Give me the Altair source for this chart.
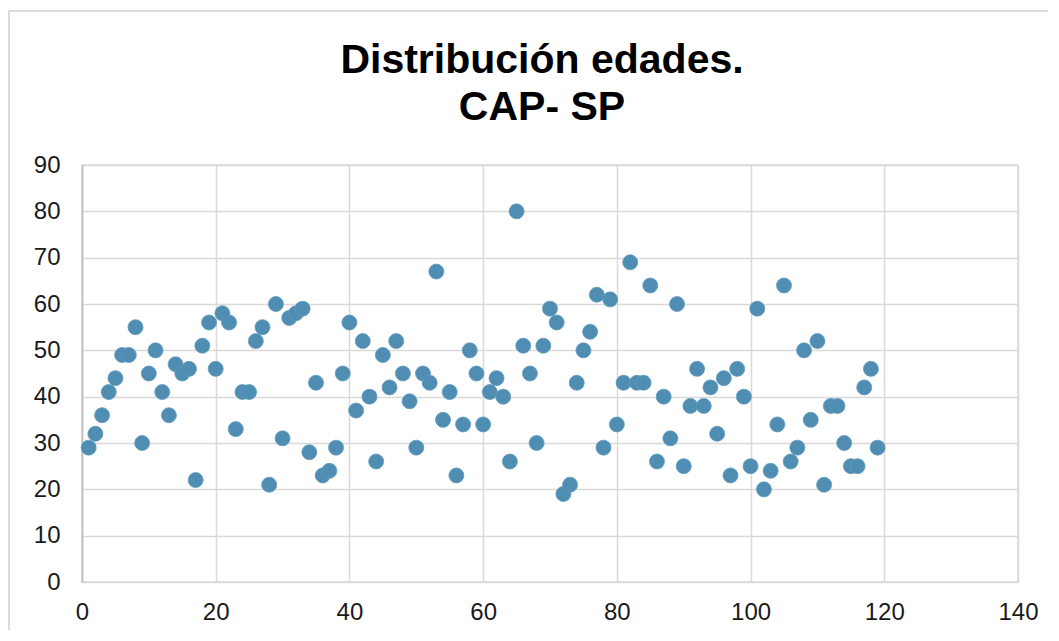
import altair as alt
import pandas as pd

ages = [29, 32, 36, 41, 44, 49, 49, 55, 30, 45,
        50, 41, 36, 47, 45, 46, 22, 51, 56, 46,
        58, 56, 33, 41, 41, 52, 55, 21, 60, 31,
        57, 58, 59, 28, 43, 23, 24, 29, 45, 56,
        37, 52, 40, 26, 49, 42, 52, 45, 39, 29,
        45, 43, 67, 35, 41, 23, 34, 50, 45, 34,
        41, 44, 40, 26, 80, 51, 45, 30, 51, 59,
        56, 19, 21, 43, 50, 54, 62, 29, 61, 34,
        43, 69, 43, 43, 64, 26, 40, 31, 60, 25,
        38, 46, 38, 42, 32, 44, 23, 46, 40, 25,
        59, 20, 24, 34, 64, 26, 29, 50, 35, 52,
        21, 38, 38, 30, 25, 25, 42, 46, 29]
index = list(range(1, len(ages) + 1))

title_lines = ["Distribución edades.", "CAP- SP"]
x_ticks = list(range(0, 141, 20))
y_ticks = list(range(0, 91, 10))

df = pd.DataFrame({"n": index, "edad": ages})

FONT = "Liberation Sans"

points = alt.Chart(df).mark_circle(
    size=225, color="#4f8db2", opacity=1, stroke="#5f9bbd", strokeWidth=0.8
).encode(
    x=alt.X("n:Q", scale=alt.Scale(domain=[0, 140], nice=False),
            axis=alt.Axis(values=x_ticks, title=None, grid=True, ticks=False,
                          domain=False, labelPadding=18, labelFontSize=24,
                          labelFlush=False,
                          labelFont=FONT, labelColor="#1a1a1a",
                          gridColor="#d9d9d9", gridWidth=1.5)),
    y=alt.Y("edad:Q", scale=alt.Scale(domain=[0, 90], nice=False),
            axis=alt.Axis(values=y_ticks, title=None, grid=True, ticks=False,
                          domain=True, domainColor="#bcbcbc", domainWidth=1.5,
                          labelPadding=22, labelFontSize=24, labelFlush=False,
                          labelFont=FONT, labelColor="#1a1a1a",
                          gridColor="#d9d9d9", gridWidth=1.5)),
)

border = alt.Chart(df).mark_rect(
    fill=None, stroke="#d0d0d0", strokeWidth=1.5, clip=False
).encode(
    x=alt.value(-73), x2=alt.value(1000), y=alt.value(-154), y2=alt.value(490)
).transform_filter("datum.n == 1")

title1 = alt.Chart(df).mark_text(
    text=title_lines[0], font=FONT, fontSize=41, fontWeight="bold",
    color="#000000", align="center", baseline="alphabetic", clip=False
).encode(x=alt.value(460), y=alt.value(-92)).transform_filter("datum.n == 1")

title2 = alt.Chart(df).mark_text(
    text=title_lines[1], font=FONT, fontSize=41, fontWeight="bold",
    color="#000000", align="center", baseline="alphabetic", clip=False
).encode(x=alt.value(460), y=alt.value(-45)).transform_filter("datum.n == 1")

chart = alt.layer(border, points, title1, title2).properties(
    width=936, height=417,
    padding={"left": 74, "top": 157, "right": 30, "bottom": 48},
    autosize=alt.AutoSizeParams(type="none"),
).configure_view(stroke="#d9d9d9", strokeWidth=1.5)

chart.save("out.html", embed_options={"renderer": "svg", "actions": False})
